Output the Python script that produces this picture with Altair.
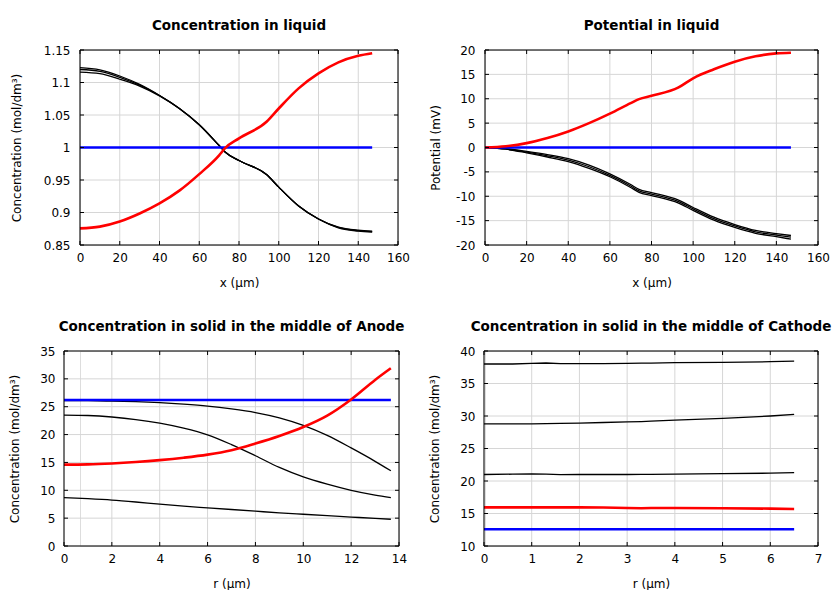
import altair as alt
import pandas as pd

FONT = "DejaVu Sans"

# ---------------- Panel 1: Concentration in liquid ----------------
p1_x = [0, 10, 20, 30, 40, 50, 60, 70, 73, 80, 94, 100, 110, 120, 130, 140, 147]
p1_red = [0.8756, 0.8783, 0.8862, 0.8985, 0.914, 0.9336, 0.959, 0.988, 0.999, 1.014, 1.040, 1.060, 1.091, 1.114, 1.131, 1.141, 1.145]
p1_blk_top = [1.123, 1.1195, 1.110, 1.097, 1.080, 1.060, 1.035, 1.003, 0.993, 0.980, 0.958, 0.939, 0.910, 0.890, 0.8775, 0.8728, 0.8713]
p1_blk_mid = [1.120, 1.117, 1.108, 1.096, 1.080, 1.060, 1.035, 1.003, 0.993, 0.980, 0.958, 0.939, 0.910, 0.890, 0.877, 0.872, 0.8705]
p1_blk_bot = [1.116, 1.1135, 1.105, 1.0945, 1.0795, 1.060, 1.035, 1.003, 0.993, 0.980, 0.958, 0.939, 0.910, 0.890, 0.8765, 0.8712, 0.8697]
p1_blue_x = [0, 147]
p1_blue = [1.0, 1.0]
p1_xticks = [0, 20, 40, 60, 80, 100, 120, 140, 160]
p1_yticks = [0.85, 0.9, 0.95, 1, 1.05, 1.1, 1.15]

# ---------------- Panel 2: Potential in liquid ----------------
p2_x = [0, 10, 20, 30, 40, 50, 60, 70, 74, 80, 93, 100, 110, 120, 130, 140, 147]
p2_red = [0, 0.25, 0.9, 1.95, 3.3, 5.0, 6.95, 9.1, 9.93, 10.6, 12.33, 14.2, 16.05, 17.6, 18.7, 19.3, 19.45]
p2_blk_top = [0, -0.25, -0.8, -1.45, -2.3, -3.6, -5.4, -7.6, -8.6, -9.25, -10.8, -12.3, -14.3, -15.8, -17.0, -17.65, -18.05]
p2_blk_mid = [0, -0.3, -0.95, -1.7, -2.6, -3.95, -5.7, -7.9, -8.9, -9.55, -11.1, -12.6, -14.6, -16.1, -17.3, -17.95, -18.4]
p2_blk_bot = [0, -0.35, -1.1, -1.95, -2.9, -4.3, -6.0, -8.2, -9.2, -9.85, -11.4, -12.9, -14.9, -16.4, -17.6, -18.3, -18.8]
p2_blue_x = [0, 147]
p2_blue = [0, 0]
p2_xticks = [0, 20, 40, 60, 80, 100, 120, 140, 160]
p2_yticks = [-20, -15, -10, -5, 0, 5, 10, 15, 20]

# ---------------- Panel 3: Anode ----------------
p3_x = [0, 1, 2, 3, 4, 5, 6, 7, 8, 9, 10, 11, 12, 13, 13.66]
p3_red = [14.6, 14.65, 14.82, 15.08, 15.42, 15.85, 16.4, 17.2, 18.4, 19.75, 21.35, 23.4, 26.3, 29.8, 31.9]
p3_blk_a = [26.1, 26.08, 26.0, 25.9, 25.72, 25.45, 25.1, 24.6, 23.95, 23.0, 21.65, 19.85, 17.6, 15.2, 13.5]
p3_blk_b = [23.5, 23.42, 23.15, 22.7, 22.05, 21.15, 19.95, 18.2, 16.2, 14.1, 12.4, 11.1, 10.0, 9.15, 8.7]
p3_blk_c = [8.7, 8.5, 8.25, 7.9, 7.5, 7.15, 6.85, 6.55, 6.25, 5.95, 5.7, 5.45, 5.2, 4.95, 4.8]
p3_blue_x = [0, 13.66]
p3_blue = [26.2, 26.2]
p3_xticks = [0, 2, 4, 6, 8, 10, 12, 14]
p3_yticks = [0, 5, 10, 15, 20, 25, 30, 35]

# ---------------- Panel 4: Cathode ----------------
p4_x = [0, 0.6, 1.0, 1.3, 1.6, 2, 2.5, 3, 3.3, 3.5, 4, 5, 6, 6.5]
p4_blk_top = [38.0, 38.0, 38.1, 38.15, 38.05, 38.05, 38.07, 38.1, 38.12, 38.14, 38.2, 38.25, 38.35, 38.45]
p4_blk_mid = [28.8, 28.8, 28.8, 28.82, 28.85, 28.9, 29.0, 29.1, 29.15, 29.2, 29.35, 29.65, 30.0, 30.25]
p4_blk_bot = [21.0, 21.05, 21.1, 21.05, 20.97, 21.0, 21.0, 21.0, 21.02, 21.03, 21.07, 21.15, 21.2, 21.3]
p4_red = [15.95, 15.95, 15.95, 15.95, 15.95, 15.95, 15.93, 15.85, 15.8, 15.85, 15.85, 15.8, 15.75, 15.7]
p4_blue_x = [0, 6.5]
p4_blue = [12.57, 12.57]
p4_xticks = [0, 1, 2, 3, 4, 5, 6, 7]
p4_yticks = [10, 15, 20, 25, 30, 35, 40]

COLORS = {"black": "#000000", "blue": "#0000ff", "red": "#ff0000"}
WIDTHS = {"black": 1.3, "blue": 2.6, "red": 2.6}
GRID = "#d6d6d6"


def build_df(curves):
    rows = []
    for cid, (kind, xs, ys) in enumerate(curves):
        for i, (xv, yv) in enumerate(zip(xs, ys)):
            rows.append({"curve": cid, "kind": kind, "x": xv, "y": yv, "i": i})
    return pd.DataFrame(rows)


def axis(values, title, label_pad, title_pad, **kw):
    return alt.Axis(values=values, labelExpr="datum.value + ''", title=title,
                    ticks=False, labelPadding=label_pad, titlePadding=title_pad,
                    domain=False, grid=False,
                    labelOverlap=False, labelFlush=False, labelBound=False,
                    labelFont=FONT, titleFont=FONT, labelFontSize=12, titleFontSize=12,
                    titleFontWeight="normal", labelColor="#000", titleColor="#000", **kw)


def panel(curves, title, xtitle, ytitle, xticks, yticks, W, H, ytp, ylp,
          interp="monotone", shift=0):
    """W is the plot width; the plot extends `shift` px left of the group origin."""
    df = build_df(curves)
    left, right = -shift, W - shift
    xs = alt.Scale(domain=[xticks[0], xticks[-1]], nice=False, zero=False,
                   range=[left, right])
    ys = alt.Scale(domain=[yticks[0], yticks[-1]], nice=False, zero=False)
    xkw = {"titleX": left + W / 2} if shift else {}
    xaxis = axis(xticks, xtitle, 7, 14, **xkw)
    ykw = {"offset": shift} if shift else {}
    yaxis = axis(yticks, ytitle, ylp, ytp, **ykw)
    X = alt.X("x:Q", scale=xs, axis=xaxis)
    Y = alt.Y("y:Q", scale=ys, axis=yaxis)
    tx = pd.DataFrame({"x": xticks})
    ty = pd.DataFrame({"y": yticks})
    one = pd.DataFrame({"k": [0]})

    layers = []
    # grid
    layers.append(alt.Chart(tx).mark_rule(color=GRID, strokeWidth=1).encode(
        x=X, y=alt.value(0), y2=alt.value(H)))
    layers.append(alt.Chart(ty).mark_rule(color=GRID, strokeWidth=1).encode(
        y=Y, x=alt.value(left), x2=alt.value(right)))
    # data lines
    for kind in ["black", "blue", "red"]:
        sub = df[df["kind"] == kind]
        layers.append(
            alt.Chart(sub).mark_line(color=COLORS[kind], strokeWidth=WIDTHS[kind],
                                     interpolate=interp, clip=False).encode(
                x=X, y=Y, detail="curve:N", order="i:Q"))
    # inward ticks
    L = 4
    layers.append(alt.Chart(tx).mark_rule(color="#000", strokeWidth=1).encode(
        x=X, y=alt.value(H), y2=alt.value(H - L)))
    layers.append(alt.Chart(tx).mark_rule(color="#000", strokeWidth=1).encode(
        x=X, y=alt.value(0), y2=alt.value(L)))
    layers.append(alt.Chart(ty).mark_rule(color="#000", strokeWidth=1).encode(
        y=Y, x=alt.value(left), x2=alt.value(left + L)))
    layers.append(alt.Chart(ty).mark_rule(color="#000", strokeWidth=1).encode(
        y=Y, x=alt.value(right), x2=alt.value(right - L)))
    # frame
    for enc in [dict(x=alt.value(left), x2=alt.value(right), y=alt.value(0)),
                dict(x=alt.value(left), x2=alt.value(right), y=alt.value(H)),
                dict(x=alt.value(left), y=alt.value(0), y2=alt.value(H)),
                dict(x=alt.value(right), y=alt.value(0), y2=alt.value(H))]:
        layers.append(alt.Chart(one).mark_rule(color="#000", strokeWidth=1).encode(**enc))

    return alt.layer(*layers).properties(
        width=W - shift, height=H,
        title=alt.TitleParams(title, font=FONT, fontSize=13.5, fontWeight="bold",
                              color="#000", offset=12, dx=-shift / 2),
    )


YC = "Concentration (mol/dm³)"

c1 = panel([
    ("black", p1_x, p1_blk_top), ("black", p1_x, p1_blk_mid), ("black", p1_x, p1_blk_bot),
    ("blue", p1_blue_x, p1_blue), ("red", p1_x, p1_red)],
    "Concentration in liquid", "x (µm)", YC, p1_xticks, p1_yticks, 318, 195, 20, 10)
c2 = panel([
    ("black", p2_x, p2_blk_top), ("black", p2_x, p2_blk_mid), ("black", p2_x, p2_blk_bot),
    ("blue", p2_blue_x, p2_blue), ("red", p2_x, p2_red)],
    "Potential in liquid", "x (µm)", "Potential (mV)", p2_xticks, p2_yticks, 333, 195, 13, 10)
c3 = panel([
    ("black", p3_x, p3_blk_a), ("black", p3_x, p3_blk_b), ("black", p3_x, p3_blk_c),
    ("blue", p3_blue_x, p3_blue), ("red", p3_x, p3_red)],
    "Concentration in solid in the middle of Anode", "r (µm)", YC, p3_xticks, p3_yticks,
    335, 195, 18, 9, shift=16)
c4 = panel([
    ("black", p4_x, p4_blk_top), ("black", p4_x, p4_blk_mid), ("black", p4_x, p4_blk_bot),
    ("blue", p4_blue_x, p4_blue), ("red", p4_x, p4_red)],
    "Concentration in solid in the middle of Cathode", "r (µm)", YC, p4_xticks, p4_yticks,
    334, 195, 18, 9, interp="linear", shift=1)

chart = alt.concat(c1, c2, c3, c4, columns=2,
                   spacing={"row": 30, "column": 12}).properties(
    padding={"left": 0, "top": 10, "right": 0, "bottom": 0}
).configure_view(stroke=None).configure(background="white")

chart.save("out.html", embed_options={"renderer": "svg", "actions": False})
